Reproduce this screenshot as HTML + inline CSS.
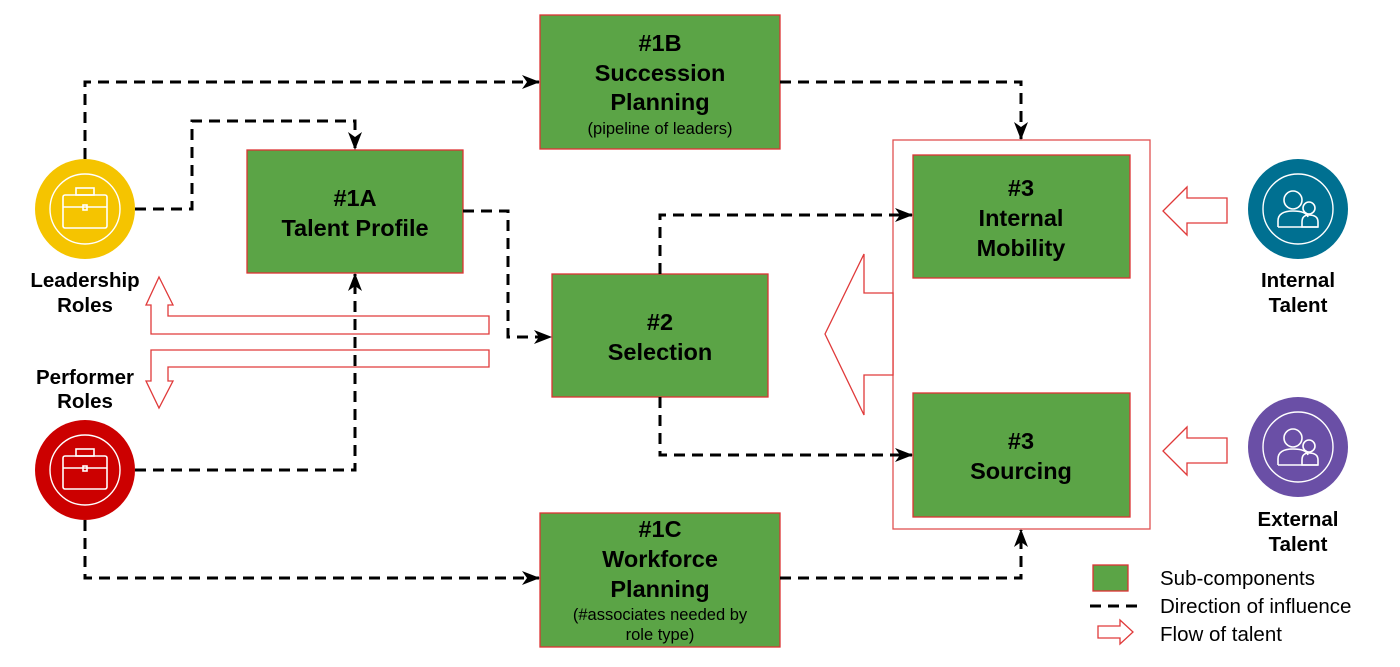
<!DOCTYPE html>
<html><head><style>body{margin:0;background:#fff}svg{display:block}text{font-family:"Liberation Sans",Arial,sans-serif}</style></head>
<body>
<svg width="1400" height="667" viewBox="0 0 1400 667" xmlns="http://www.w3.org/2000/svg">
<defs>
<marker id="ah" markerWidth="18" markerHeight="14" refX="17" refY="7" orient="auto" markerUnits="userSpaceOnUse"><path d="M0,0 L18,7 L0,14 L5,7 Z" fill="#000"/></marker>
<g id="brief" fill="none" stroke="#fff" stroke-width="1.6">
<circle r="35" stroke-width="1.4"/>
<rect x="-22" y="-14" width="44" height="33" rx="2"/>
<rect x="-9" y="-21" width="18" height="7"/>
<path d="M-22,-2 H22"/>
<rect x="-2" y="-4" width="4" height="5"/>
</g>
<g id="ppl" fill="none" stroke="#fff" stroke-width="1.6">
<circle r="35" stroke-width="1.4"/>
<circle cx="-5" cy="-9" r="9"/>
<path d="M-20,18 V12 Q-20,2 -5,2 Q8,2 10,8"/>
<circle cx="11" cy="-1" r="6"/>
<path d="M4,18 V13 Q4,6 11,6 Q20,6 20,13 V18 Z"/>
<path d="M-20,18 H20"/>
</g>
</defs>

<rect x="893" y="140" width="257" height="389" fill="none" stroke="#e05050" stroke-width="1.3"/>

<g fill="#5ba446" stroke="#d33" stroke-width="1.3">
<rect x="540" y="15" width="240" height="134"/>
<rect x="247" y="150" width="216" height="123"/>
<rect x="552" y="274" width="216" height="123"/>
<rect x="913" y="155" width="217" height="123"/>
<rect x="913" y="393" width="217" height="124"/>
<rect x="540" y="513" width="240" height="134"/>
<rect x="1093" y="565" width="35" height="26"/>
</g>

<g font-weight="bold" font-size="23.5" text-anchor="middle" fill="#000">
<text x="660" y="51">#1B</text><text x="660" y="81">Succession</text><text x="660" y="110">Planning</text>
<text x="355" y="206">#1A</text><text x="355" y="236">Talent Profile</text>
<text x="660" y="330">#2</text><text x="660" y="360">Selection</text>
<text x="1021" y="196">#3</text><text x="1021" y="226">Internal</text><text x="1021" y="256">Mobility</text>
<text x="1021" y="449">#3</text><text x="1021" y="479">Sourcing</text>
<text x="660" y="537">#1C</text><text x="660" y="567">Workforce</text><text x="660" y="597">Planning</text>
</g>
<g font-size="16.5" text-anchor="middle" fill="#000">
<text x="660" y="134">(pipeline of leaders)</text>
<text x="660" y="620">(#associates needed by</text>
<text x="660" y="640">role type)</text>
</g>
<g font-weight="bold" font-size="20.5" text-anchor="middle" fill="#000">
<text x="85" y="287">Leadership</text><text x="85" y="312">Roles</text>
<text x="85" y="384">Performer</text><text x="85" y="408">Roles</text>
<text x="1298" y="287">Internal</text><text x="1298" y="312">Talent</text>
<text x="1298" y="526">External</text><text x="1298" y="551">Talent</text>
</g>

<circle cx="85" cy="209" r="50" fill="#f5c400"/><use href="#brief" x="85" y="209"/>
<circle cx="85" cy="470" r="50" fill="#cc0000"/><use href="#brief" x="85" y="470"/>
<circle cx="1298" cy="209" r="50" fill="#007091"/><use href="#ppl" x="1298" y="209"/>
<circle cx="1298" cy="447" r="50" fill="#6a4fa6"/><use href="#ppl" x="1298" y="447"/>

<g fill="#fff" stroke="#e03a3a" stroke-width="1.3">
<polygon points="489,316 168,316 168,305 173,305 159,277 146,305 151,305 151,334 489,334"/>
<polygon points="489,350 151,350 151,381 146,381 159,408 173,381 168,381 168,367 489,367"/>
<polygon points="893,293 864,293 864,254 825,334 864,415 864,375 893,375"/>
<polygon points="1227,198 1187,198 1187,187 1163,211 1187,235 1187,223 1227,223"/>
<polygon points="1227,438 1187,438 1187,427 1163,451 1187,475 1187,463 1227,463"/>
<polygon points="1098,626 1120,626 1120,620 1133,632 1120,644 1120,638 1098,638"/>
</g>

<g fill="none" stroke="#000" stroke-width="3" stroke-dasharray="11 7">
<path d="M85,159 V82 H539" marker-end="url(#ah)"/>
<path d="M135,209 H192 V121 H355 V149" marker-end="url(#ah)"/>
<path d="M463,211 H508 V337 H551" marker-end="url(#ah)"/>
<path d="M135,470 H355 V274" marker-end="url(#ah)"/>
<path d="M660,274 V215 H912" marker-end="url(#ah)"/>
<path d="M660,397 V455 H912" marker-end="url(#ah)"/>
<path d="M780,82 H1021 V139" marker-end="url(#ah)"/>
<path d="M85,520 V578 H539" marker-end="url(#ah)"/>
<path d="M780,578 H1021 V530" marker-end="url(#ah)"/>
<path d="M1090,606 H1142"/>
</g>

<g font-size="20.5" fill="#000">
<text x="1160" y="585">Sub-components</text>
<text x="1160" y="613">Direction of influence</text>
<text x="1160" y="641">Flow of talent</text>
</g>
</svg>
</body></html>
